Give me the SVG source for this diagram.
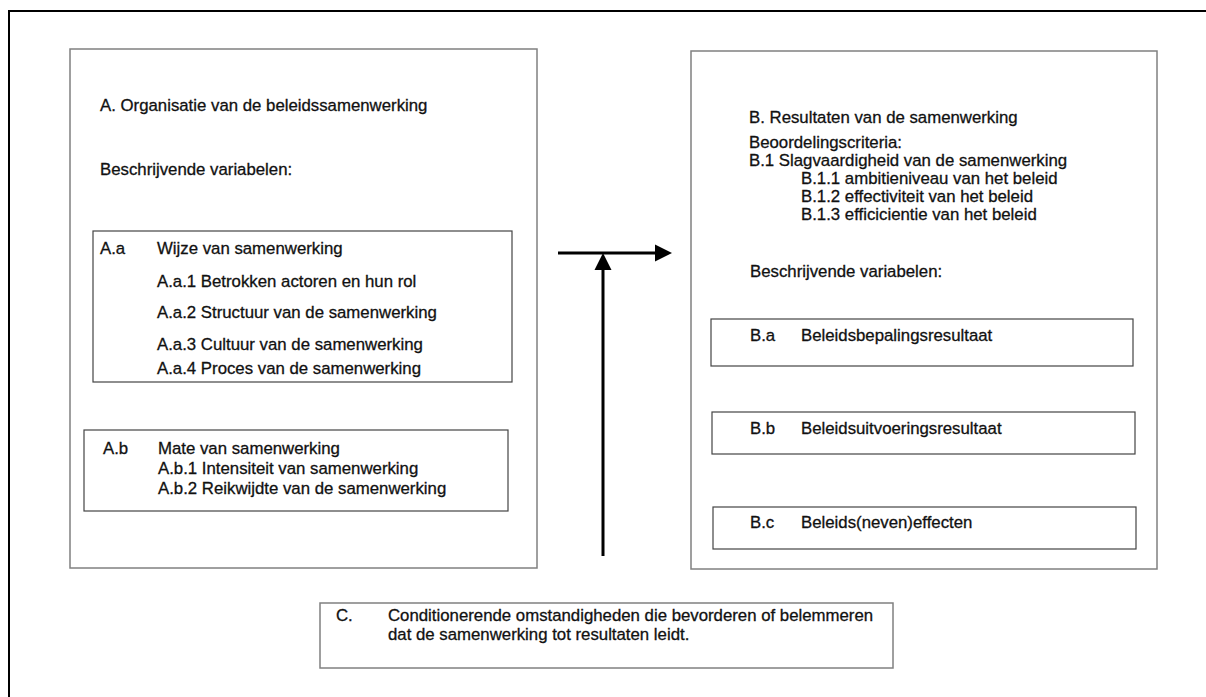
<svg xmlns="http://www.w3.org/2000/svg" width="1206" height="697" viewBox="0 0 1206 697">
<style>
text{font-family:"Liberation Sans",Arial,sans-serif;font-size:16.8px;fill:#111;stroke:#111;stroke-width:0.3}
.main{fill:none;stroke:#808080;stroke-width:1.5}
.sub{fill:none;stroke:#444;stroke-width:1.2}
.frame{fill:none;stroke:#000;stroke-width:2}
.arr{stroke:#000;stroke-width:3;fill:none}
.head{fill:#000}
</style>
<rect width="1206" height="697" fill="#fff"/>
<path class="frame" d="M9,697 V11 H1206"/>
<g id="nodeA">
<rect class="main" x="70" y="49" width="467" height="519"/>
<text x="100" y="111">A. Organisatie van de beleidssamenwerking</text>
<text x="100" y="175">Beschrijvende variabelen:</text>
</g>
<g id="nodeAa">
<rect class="sub" x="93" y="231" width="419" height="151"/>
<text x="100" y="254">A.a</text>
<text x="157" y="254">Wijze van samenwerking</text>
<text x="157" y="287">A.a.1 Betrokken actoren en hun rol</text>
<text x="157" y="318">A.a.2 Structuur van de samenwerking</text>
<text x="157" y="350">A.a.3 Cultuur van de samenwerking</text>
<text x="157" y="374">A.a.4 Proces van de samenwerking</text>
</g>
<g id="nodeAb">
<rect class="sub" x="84" y="430" width="424" height="81"/>
<text x="103" y="454">A.b</text>
<text x="158" y="454">Mate van samenwerking</text>
<text x="158" y="474">A.b.1 Intensiteit van samenwerking</text>
<text x="158" y="494">A.b.2 Reikwijdte van de samenwerking</text>
</g>
<g id="nodeB">
<rect class="main" x="691" y="51" width="466" height="518"/>
<text x="749" y="123">B. Resultaten van de samenwerking</text>
<text x="749" y="148">Beoordelingscriteria:</text>
<text x="749" y="166">B.1 Slagvaardigheid van de samenwerking</text>
<text x="801" y="184">B.1.1 ambitieniveau van het beleid</text>
<text x="801" y="202">B.1.2 effectiviteit van het beleid</text>
<text x="801" y="220">B.1.3 efficicientie van het beleid</text>
<text x="750" y="277">Beschrijvende variabelen:</text>
</g>
<g id="nodeBa">
<rect class="sub" x="711" y="319" width="422" height="47"/>
<text x="750" y="341">B.a</text>
<text x="801" y="341">Beleidsbepalingsresultaat</text>
</g>
<g id="nodeBb">
<rect class="sub" x="712" y="412" width="423" height="42"/>
<text x="750" y="434">B.b</text>
<text x="801" y="434">Beleidsuitvoeringsresultaat</text>
</g>
<g id="nodeBc">
<rect class="sub" x="713" y="507" width="423" height="42"/>
<text x="750" y="528">B.c</text>
<text x="801" y="528">Beleids(neven)effecten</text>
</g>
<g id="nodeC">
<rect class="main" x="320" y="603" width="573" height="65"/>
<text x="336" y="621">C.</text>
<text x="388" y="621">Conditionerende omstandigheden die bevorderen of belemmeren</text>
<text x="388" y="640">dat de samenwerking tot resultaten leidt.</text>
</g>
<g id="connectors">
<line class="arr" x1="558" y1="253" x2="656" y2="253"/>
<polygon class="head" points="655,244.5 672,253 655,261.5"/>
<line class="arr" x1="603" y1="556" x2="603" y2="268"/>
<polygon class="head" points="594.5,270 603,253 611.5,270"/>
</g>
</svg>
